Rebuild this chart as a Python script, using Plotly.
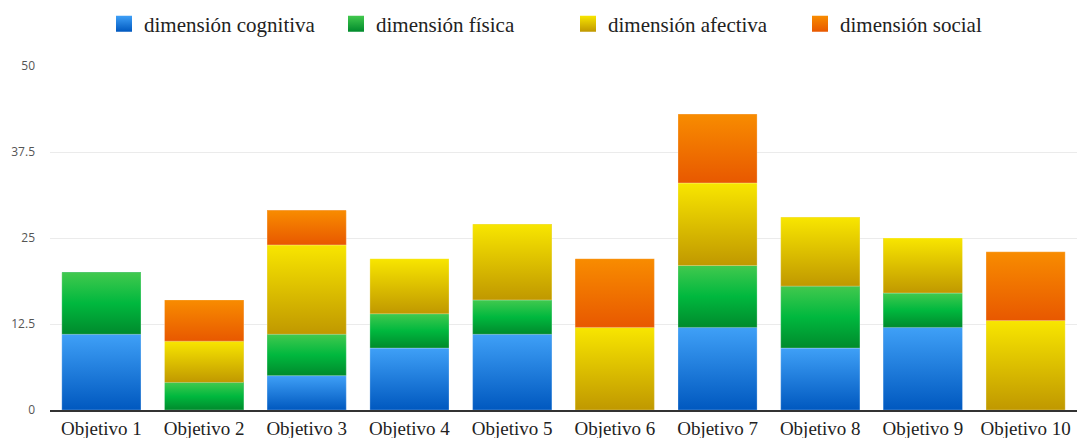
import plotly.graph_objects as go

# Objectives and the score of each dimension
categories = ["Objetivo 1", "Objetivo 2", "Objetivo 3", "Objetivo 4", "Objetivo 5",
              "Objetivo 6", "Objetivo 7", "Objetivo 8", "Objetivo 9", "Objetivo 10"]
cognitiva = [11, 0, 5, 9, 11, 0, 12, 9, 12, 0]
fisica = [9, 4, 6, 5, 5, 0, 9, 9, 5, 0]
afectiva = [0, 6, 13, 8, 11, 12, 12, 10, 8, 13]
social = [0, 6, 5, 0, 0, 10, 10, 0, 0, 10]

y_ticks = [0, 12.5, 25, 37.5, 50]
y_tick_text = ["0", "12.5", "25", "37.5", "50"]

# name, values, flat colour, gradient stops (bottom -> top)
series = [
    ("dimensión cognitiva", cognitiva, "#1f7fe0", ["#0058bf", "#3fa0f7"]),
    ("dimensión física", fisica, "#00a83a", ["#008a2c", "#00b83e", "#42c94e"]),
    ("dimensión afectiva", afectiva, "#dcc000", ["#c09800", "#f8e600"]),
    ("dimensión social", social, "#f07400", ["#e85800", "#f88c00"]),
]

BARGAP = 0.23
SERIF = "Liberation Serif"
SANS = "Open Sans"

fig = go.Figure()

# Stacked bars
for name, vals, color, _ in series:
    fig.add_trace(go.Bar(
        x=categories, y=vals, name=name,
        marker=dict(color=color, line=dict(width=0)),
        showlegend=False, hoverinfo="skip",
    ))

# Vertical gradient shading on each stacked segment, on a linear twin axis
half = (1 - BARGAP) / 2
bases = [0] * len(categories)
for name, vals, color, stops in series:
    n = len(stops)
    scale = [[k / (n - 1), c] for k, c in enumerate(stops)]
    for i, v in enumerate(vals):
        if v <= 0:
            continue
        b, t = bases[i], bases[i] + v
        fig.add_trace(go.Scatter(
            x=[i - half, i + half, i + half, i - half, i - half],
            y=[b, b, t, t, b],
            xaxis="x2", mode="lines",
            line=dict(width=1, color="rgba(255,255,255,0.25)"),
            fill="toself",
            fillgradient=dict(type="vertical", colorscale=scale, start=b, stop=t),
            showlegend=False, hoverinfo="skip",
        ))
        bases[i] = t

# Legend entries with gradient square swatches
for name, vals, color, stops in series:
    fig.add_trace(go.Scatter(
        x=[None], y=[None], name=name, mode="markers",
        marker=dict(symbol="square", size=16, color=stops[-1],
                    gradient=dict(type="vertical", color=stops[0]),
                    line=dict(width=0)),
        hoverinfo="skip",
    ))

fig.update_layout(
    width=1077, height=438,
    margin=dict(l=50, r=0, t=66, b=28),
    barmode="stack",
    bargap=BARGAP,
    plot_bgcolor="white",
    paper_bgcolor="white",
    font=dict(family=SERIF, color="#222222"),
    legend=dict(
        orientation="h", traceorder="normal",
        x=104 / 1077, xanchor="left", xref="container",
        y=1 - 24 / 438, yanchor="middle", yref="container",
        font=dict(size=21, family=SERIF, color="#222222"),
        itemsizing="trace", entrywidth=187, entrywidthmode="pixels",
    ),
    xaxis=dict(
        type="category", range=[-0.5, 9.5],
        showgrid=False, showline=True, linecolor="#333333", linewidth=2,
        ticks="", tickfont=dict(size=19, family=SERIF, color="#222222"),
        fixedrange=True,
    ),
    xaxis2=dict(
        overlaying="x", range=[-0.5, 9.5], visible=False, fixedrange=True,
    ),
    yaxis=dict(
        range=[0, 50], tickvals=y_ticks, ticktext=y_tick_text,
        showgrid=True, gridcolor="#ebebeb", gridwidth=1,
        zeroline=False, showline=False, ticks="",
        tickfont=dict(size=12, family=SANS, color="#555555"),
        ticklabelstandoff=14, fixedrange=True,
    ),
)

fig.write_html("out.html")
